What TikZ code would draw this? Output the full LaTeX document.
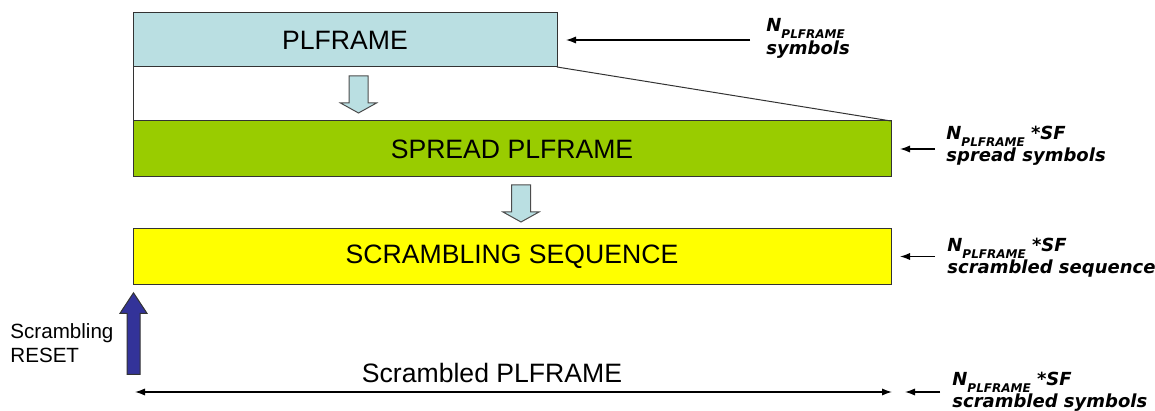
\documentclass[tikz,border=0pt]{standalone}
\usepackage{fontspec}
\setmainfont{Liberation Sans}
\newfontfamily\lblfont{DejaVu Sans}
\usetikzlibrary{positioning}
\usetikzlibrary{arrows.meta}

\definecolor{plblue}{RGB}{186,223,226}
\definecolor{spreadgreen}{RGB}{153,204,0}
\definecolor{scryellow}{RGB}{255,255,0}
\definecolor{resetblue}{RGB}{51,51,153}

\newcommand{\plsub}[1]{\raisebox{-3.5pt}{\fontsize{6}{7}\selectfont #1}}

\tikzset{
    box/.style={draw=black!80, line width=0.5pt, inner sep=0pt, outer sep=0pt,
        font=\fontsize{13.3}{16}\selectfont},
    sidelbl/.style={inner sep=0pt, align=left, anchor=north west,
        font=\lblfont\bfseries\itshape\fontsize{9}{11}\selectfont},
    ptr/.style={-{Latex[length=5pt,width=3.6pt]}, line width=0.65pt},
    dimarrow/.style={{Latex[length=5pt,width=3.6pt]}-{Latex[length=5pt,width=3.6pt]}, line width=0.65pt},
    pics/downarrow/.style={code={
        \draw[draw=black!70, line width=0.5pt, fill=plblue]
            (-9.5,0) -- (9.5,0) -- (9.5,27) -- (18,27) -- (0,37) -- (-18,27) -- (-9.5,27) -- cycle;
    }},
    pics/uparrow/.style={code={
        \draw[draw=black!80, line width=0.5pt, fill=resetblue]
            (-6.5,0) -- (6.5,0) -- (6.5,-61) -- (13.5,-61) -- (0,-81.5) -- (-13.5,-61) -- (-6.5,-61) -- cycle;
    }}
}

\begin{document}
\begin{tikzpicture}[x=0.5pt, y=-0.5pt]
    \useasboundingbox (0,0) rectangle (1155,411);

    % frames
    \node[box, fill=plblue, minimum width=212pt, minimum height=27pt, anchor=north west] (plframe) at (133,13) {PLFRAME};
    \node[box, fill=spreadgreen, minimum width=379pt, minimum height=28pt, below right=27pt and 0pt of plframe.south west] (spread) {SPREAD PLFRAME};
    \node[box, fill=scryellow, minimum width=379pt, minimum height=27.5pt, below right=26pt and 0pt of spread.south west] (scramble) {SCRAMBLING SEQUENCE};

    \draw[black!80, line width=0.5pt] (plframe.south west) -- (spread.north west);
    \draw[black!80, line width=0.5pt] (plframe.south east) -- (spread.north east);

    \pic at (358.5,76) {downarrow};
    \pic at (521,185) {downarrow};
    \pic at (133.5,374.3) {uparrow};

    % labels
    \node[sidelbl, font=\lblfont\bfseries\itshape\fontsize{9}{10}\selectfont] (plframelbl) at (766,18) {N\plsub{PLFRAME}\\symbols};
    \node[sidelbl] (spreadlbl) at (946,126) {N\plsub{PLFRAME} *SF\\spread symbols};
    \node[sidelbl] (scramblelbl) at (947,238) {N\plsub{PLFRAME} *SF\\scrambled sequence};
    \node[sidelbl] (outlbl) at (952,372) {N\plsub{PLFRAME} *SF\\scrambled symbols};

    \node[inner sep=0pt, align=left, anchor=north west, font=\fontsize{10.3}{12}\selectfont] (resetlbl) at (10,323) {Scrambling\\RESET};
    \node[inner sep=0pt, anchor=base, font=\fontsize{13.3}{16}\selectfont] (outname) at (492,382) {Scrambled PLFRAME};

    \coordinate (lenL) at (135,392);
    \coordinate (lenR) at (892,392);
    \draw[dimarrow] (lenL) -- (lenR);

    \draw[ptr] ([xshift=-8pt]plframelbl.west |- plframe.east) -- ([xshift=4.5pt]plframe.east);
    \draw[ptr] ([xshift=-5.5pt]spreadlbl.west |- spread.east) -- ([xshift=4.5pt]spread.east);
    \draw[ptr] ([xshift=-6pt]scramblelbl.west |- scramble.east) -- ([xshift=4.5pt]scramble.east);
    \draw[ptr] ([xshift=-6pt]outlbl.west |- lenR) -- ([xshift=6.5pt]lenR);
\end{tikzpicture}
\end{document}
